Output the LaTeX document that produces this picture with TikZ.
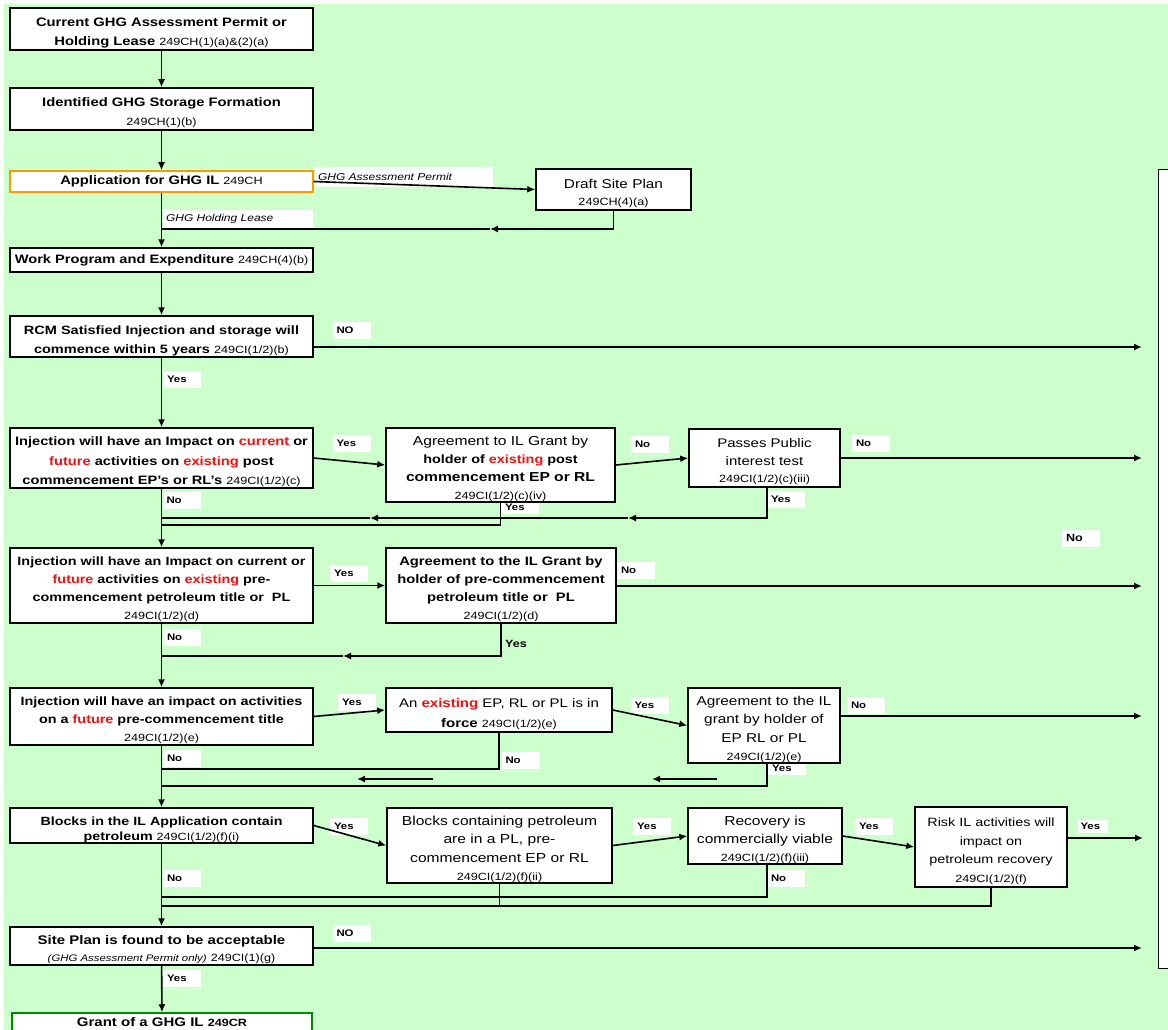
\documentclass[tikz,border=0pt]{standalone}
\usepackage{fontspec}
\setmainfont{Liberation Sans}[FakeStretch=1.2]
\usetikzlibrary{arrows.meta}
\definecolor{bggreen}{HTML}{CCFFCC}
\definecolor{hired}{HTML}{F01010}
\definecolor{apporange}{HTML}{FF9900}
\definecolor{grantgreen}{HTML}{008A00}
\newcommand{\secref}[1]{{\fontsize{10.5}{12}\selectfont\mdseries #1}}
\newcommand{\redw}[1]{\textcolor{hired}{\bfseries #1}}
\newcommand{\boxstrut}{\rule{0pt}{17pt}}
\tikzset{
  box/.style={draw, fill=white, line width=1.5pt, align=center, inner xsep=1pt, inner ysep=0pt, font=\fontsize{12.5}{18.5}\selectfont\bfseries},
  plainbox/.style={box, font=\fontsize{12.5}{18.5}\selectfont},
  lbl/.style={fill=white, inner xsep=4pt, inner ysep=0pt, text width=30pt, minimum height=17pt, align=left, font=\fontsize{9.5}{11}\selectfont\bfseries},
  arr/.style={-{Latex[length=8pt,width=7pt]}, line width=1.6pt},
  wire/.style={line width=1.6pt},
}
\begin{document}
\begin{tikzpicture}[x=1pt,y=-1pt]
    \useasboundingbox (0,0) rectangle (1168,1030);
    \fill[white] (0,0) rectangle (1168,1030);
    \fill[bggreen] (4,4) rectangle (1168,1030);
    % labels partly hidden under boxes
    \node[lbl, minimum height=14pt] (yesagr1) at (520,507) {Yes};
    \node[lbl, minimum height=14pt] (yesagr3) at (787,768) {Yes};
    % main column
    \node[box, minimum width=303pt, minimum height=42pt, font=\fontsize{12.3}{19.5}\selectfont\bfseries] (cur) at (161.5,29) {\boxstrut Current GHG Assessment Permit or\\Holding Lease \secref{249CH(1)(a)\&(2)(a)}};
    \node[box, minimum width=303pt, minimum height=42pt, font=\fontsize{12.3}{19}\selectfont\bfseries] (ident) at (161.5,109) {\boxstrut Identified GHG Storage Formation\\\secref{249CH(1)(b)}};
    \node[box, draw=apporange, minimum width=303pt, minimum height=21pt, font=\fontsize{12.3}{19}\selectfont\bfseries] (app) at (161.5,181.5) {Application for GHG IL \secref{249CH}};
    \node[box, minimum width=303pt, minimum height=24pt, font=\fontsize{12.2}{18}\selectfont\bfseries] (work) at (161.5,260) {Work Program and Expenditure \secref{249CH(4)(b)}};
    \node[box, minimum width=303pt, minimum height=41pt, font=\fontsize{12.1}{19}\selectfont\bfseries] (rcm) at (161.5,336.5) {\boxstrut RCM Satisfied Injection and storage will\\commence within 5 years \secref{249CI(1/2)(b)}};
    \node[box, minimum width=303pt, minimum height=60pt, font=\fontsize{12.2}{19.5}\selectfont\bfseries] (inj1) at (161.5,458) {\boxstrut Injection will have an Impact on \redw{current} or\\\redw{future} activities on \redw{existing} post\\commencement EP's or RL's \secref{249CI(1/2)(c)}};
    \node[box, minimum width=303pt, minimum height=75pt, font=\fontsize{12}{18}\selectfont\bfseries] (inj2) at (161.5,585.5) {\boxstrut Injection will have an Impact on current or\\\redw{future} activities on \redw{existing} pre-\\commencement petroleum title or~ PL\\\secref{249CI(1/2)(d)}};
    \node[box, minimum width=303pt, minimum height=57pt, font=\fontsize{12}{18}\selectfont\bfseries] (inj3) at (161.5,716.5) {\boxstrut Injection will have an impact on activities\\on a \redw{future} pre-commencement title\\\secref{249CI(1/2)(e)}};
    \node[box, minimum width=303pt, minimum height=35pt, font=\fontsize{11.9}{15.5}\selectfont\bfseries] (blk) at (161.5,825.5) {\boxstrut Blocks in the IL Application contain\\petroleum \secref{249CI(1/2)(f)(i)}};
    \node[box, minimum width=303pt, minimum height=38pt, font=\fontsize{12.5}{17}\selectfont\bfseries] (site) at (161.5,946) {\boxstrut Site Plan is found to be acceptable\\{\fontsize{9.5}{11}\selectfont\mdseries\itshape (GHG Assessment Permit only)} \secref{249CI(1)(g)}};
    \node[box, draw=grantgreen, minimum width=300pt, minimum height=18pt] (grant) at (162,1022) {Grant of a GHG IL \secref{\bfseries 249CR}};
    % right hand boxes
    \node[plainbox, minimum width=155pt, minimum height=41pt, font=\fontsize{12.8}{17}\selectfont] (draft) at (613.5,189.5) {\boxstrut Draft Site Plan\\\secref{249CH(4)(a)}};
    \node[plainbox, minimum width=229pt, minimum height=74pt, font=\fontsize{13}{18}\selectfont] (agr1) at (500.5,465) {\boxstrut Agreement to IL Grant by\\{\fontsize{12}{18}\selectfont\bfseries holder of \redw{existing} post}\\\textbf{commencement EP or RL}\\\secref{249CI(1/2)(c)(iv)}};
    \node[plainbox, minimum width=151pt, minimum height=58pt, font=\fontsize{12.5}{17.5}\selectfont] (pub) at (764.5,458) {\boxstrut Passes Public\\interest test\\\secref{249CI(1/2)(c)(iii)}};
    \node[box, minimum width=230pt, minimum height=75pt, font=\fontsize{12.3}{18}\selectfont\bfseries] (agr2) at (501,585.5) {\boxstrut Agreement to the IL Grant by\\holder of pre-commencement\\petroleum title or~ PL\\\secref{249CI(1/2)(d)}};
    \node[plainbox, minimum width=226pt, minimum height=44pt, font=\fontsize{12.5}{20}\selectfont] (exist) at (499,710) {\boxstrut An \redw{existing} EP, RL or PL is in\\\textbf{force} \secref{249CI(1/2)(e)}};
    \node[plainbox, minimum width=152pt, minimum height=75pt, font=\fontsize{12.8}{18.5}\selectfont] (agr3) at (764,725.5) {\boxstrut Agreement to the IL\\grant by holder of\\EP RL or PL\\\secref{249CI(1/2)(e)}};
    \node[plainbox, minimum width=225pt, minimum height=75pt, font=\fontsize{13}{18.5}\selectfont] (blkc) at (499.5,845.5) {\boxstrut Blocks containing petroleum\\are in a PL, pre-\\commencement EP or RL\\\secref{249CI(1/2)(f)(ii)}};
    \node[plainbox, minimum width=154pt, minimum height=56pt, font=\fontsize{13}{18}\selectfont] (rec) at (765,836) {\boxstrut Recovery is\\commercially viable\\\secref{249CI(1/2)(f)(iii)}};
    \node[plainbox, minimum width=152pt, minimum height=80pt, font=\fontsize{12}{18.5}\selectfont] (risk) at (991,847) {\boxstrut Risk IL activities will\\impact on\\petroleum recovery\\\secref{249CI(1/2)(f)}};
    \node[draw, fill=white, line width=1pt, minimum width=60pt, minimum height=799pt, inner sep=0pt, anchor=north west] (side) at (1158,169) {};
    % labels
    \node[lbl, text width=172pt, minimum height=20pt, inner xsep=3pt, font=\fontsize{10}{12}\selectfont\itshape] (lbap) at (404,177) {GHG Assessment Permit};
    \node[lbl, text width=144pt, minimum height=18pt, inner xsep=3pt, font=\fontsize{10}{12}\selectfont\itshape] (lbhl) at (238,219) {GHG Holding Lease};
    \node[lbl] (norcm) at (351.5,330.5) {NO};
    \node[lbl] (yesrcm) at (182,379.5) {Yes};
    \node[lbl] (yesinj1) at (351.5,443) {Yes};
    \node[lbl] (noinj1) at (181.5,500.5) {No};
    \node[lbl] (noagr1) at (650,444) {No};
    \node[lbl] (nopub) at (871,443.5) {No};
    \node[lbl] (yespub) at (786,499.5) {Yes};
    \node[lbl] (yesinj2) at (349,573) {Yes};
    \node[lbl] (noagr2) at (636,570) {No};
    \node[font=\fontsize{10.5}{12}\selectfont\bfseries, inner sep=0pt] (yesagr2) at (516,644) {Yes};
    \node[lbl] (noinj2) at (182,637) {No};
    \node[lbl, font=\fontsize{10.5}{12}\selectfont\bfseries] (noside) at (1081,538) {No};
    \node[lbl] (yesinj3) at (357,702) {Yes};
    \node[lbl] (yesexist) at (649.5,705) {Yes};
    \node[lbl] (noagr3) at (866,705.5) {No};
    \node[lbl] (noexist) at (520.5,760.5) {No};
    \node[lbl] (noinj3) at (182,758) {No};
    \node[lbl] (yesblk) at (349,826) {Yes};
    \node[lbl] (yesblkc) at (652,826) {Yes};
    \node[lbl] (yesrec) at (874,826) {Yes};
    \node[lbl, text width=24pt, minimum height=13pt, inner xsep=3pt] (yesrisk) at (1092.5,826) {Yes};
    \node[lbl] (norec) at (786,878.5) {No};
    \node[lbl] (noblk) at (182,878.5) {No};
    \node[lbl] (nosite) at (351.5,933.5) {NO};
    \node[lbl] (yessite) at (182,978.5) {Yes};
    % free ends and bends
    \coordinate (ea) at (1142,347);
    \coordinate (eb) at (1142,458);
    \coordinate (ec) at (1142,586);
    \coordinate (ed) at (1142,716);
    \coordinate (ee) at (1143,838);
    \coordinate (ef) at (1142,948);
    \coordinate (d2) at (490,229);
    \coordinate (p1) at (767,518);
    \coordinate (p2) at (628,518);
    \coordinate (p3) at (370,518);
    \coordinate (q1) at (500.5,525);
    \coordinate (r2) at (343,656);
    \coordinate (s1) at (499,769);
    \coordinate (t1) at (767,786);
    \coordinate (fa1) at (717,779);
    \coordinate (fa2) at (652,779);
    \coordinate (fb1) at (433,779);
    \coordinate (fb2) at (357,779);
    \coordinate (u1) at (767,897);
    \coordinate (v1) at (991,906);
    % main flow
    \draw[arr] (cur) -- (ident);
    \draw[arr] (ident) -- (app);
    \draw[arr] (app) -- (work);
    \draw[arr] (work) -- (rcm);
    \draw[arr] (rcm) -- (inj1);
    \draw[arr] (inj1) -- (inj2);
    \draw[arr] (inj2) -- (inj3);
    \draw[arr] (inj3) -- (blk);
    \draw[arr] (blk) -- (site);
    \draw[arr] (site) -- (grant);
    % site plan loop
    \draw[arr] (app.east) -- (draft.west);
    \draw[arr] (draft.south) |- (d2);
    \draw[wire] (d2) -- (d2 -| app.south);
    % to the right
    \draw[arr] (rcm.east |- ea) -- (ea);
    \draw[arr] (inj1.east) -- (agr1.west);
    \draw[arr] (agr1.east) -- (pub.west);
    \draw[arr] (pub.east) -- (eb);
    \draw[arr] (pub.south -| p1) |- (p2);
    \draw[arr] (p2) -- (p3);
    \draw[wire] (p3) -- (p3 -| cur.south);
    \draw[wire] (agr1.south) |- (q1 -| cur.south);
    \draw[arr] (inj2.east) -- (agr2.west);
    \draw[arr] (agr2.east |- ec) -- (ec);
    \draw[arr] (agr2.south) |- (r2);
    \draw[wire] (r2) -- (r2 -| cur.south);
    \draw[arr] (inj3.east) -- (exist.west);
    \draw[arr] (exist.east) -- (agr3.west);
    \draw[arr] (agr3.east |- ed) -- (ed);
    \draw[wire] (exist.south) |- (s1 -| cur.south);
    \draw[wire] (agr3.south -| t1) |- (t1 -| cur.south);
    \draw[arr] (fa1) -- (fa2);
    \draw[arr] (fb1) -- (fb2);
    \draw[arr] (blk.east) -- (blkc.west);
    \draw[arr] (blkc.east) -- (rec.west);
    \draw[arr] (rec.east) -- (risk.west);
    \draw[arr] (risk.east |- ee) -- (ee);
    \draw[wire] (rec.south -| u1) |- (u1 -| cur.south);
    \draw[wire] (risk.south) |- (v1 -| cur.south);
    \draw[wire] (blkc.south) -- (blkc.south |- v1);
    \draw[arr] (site.east |- ef) -- (ef);
\end{tikzpicture}
\end{document}
